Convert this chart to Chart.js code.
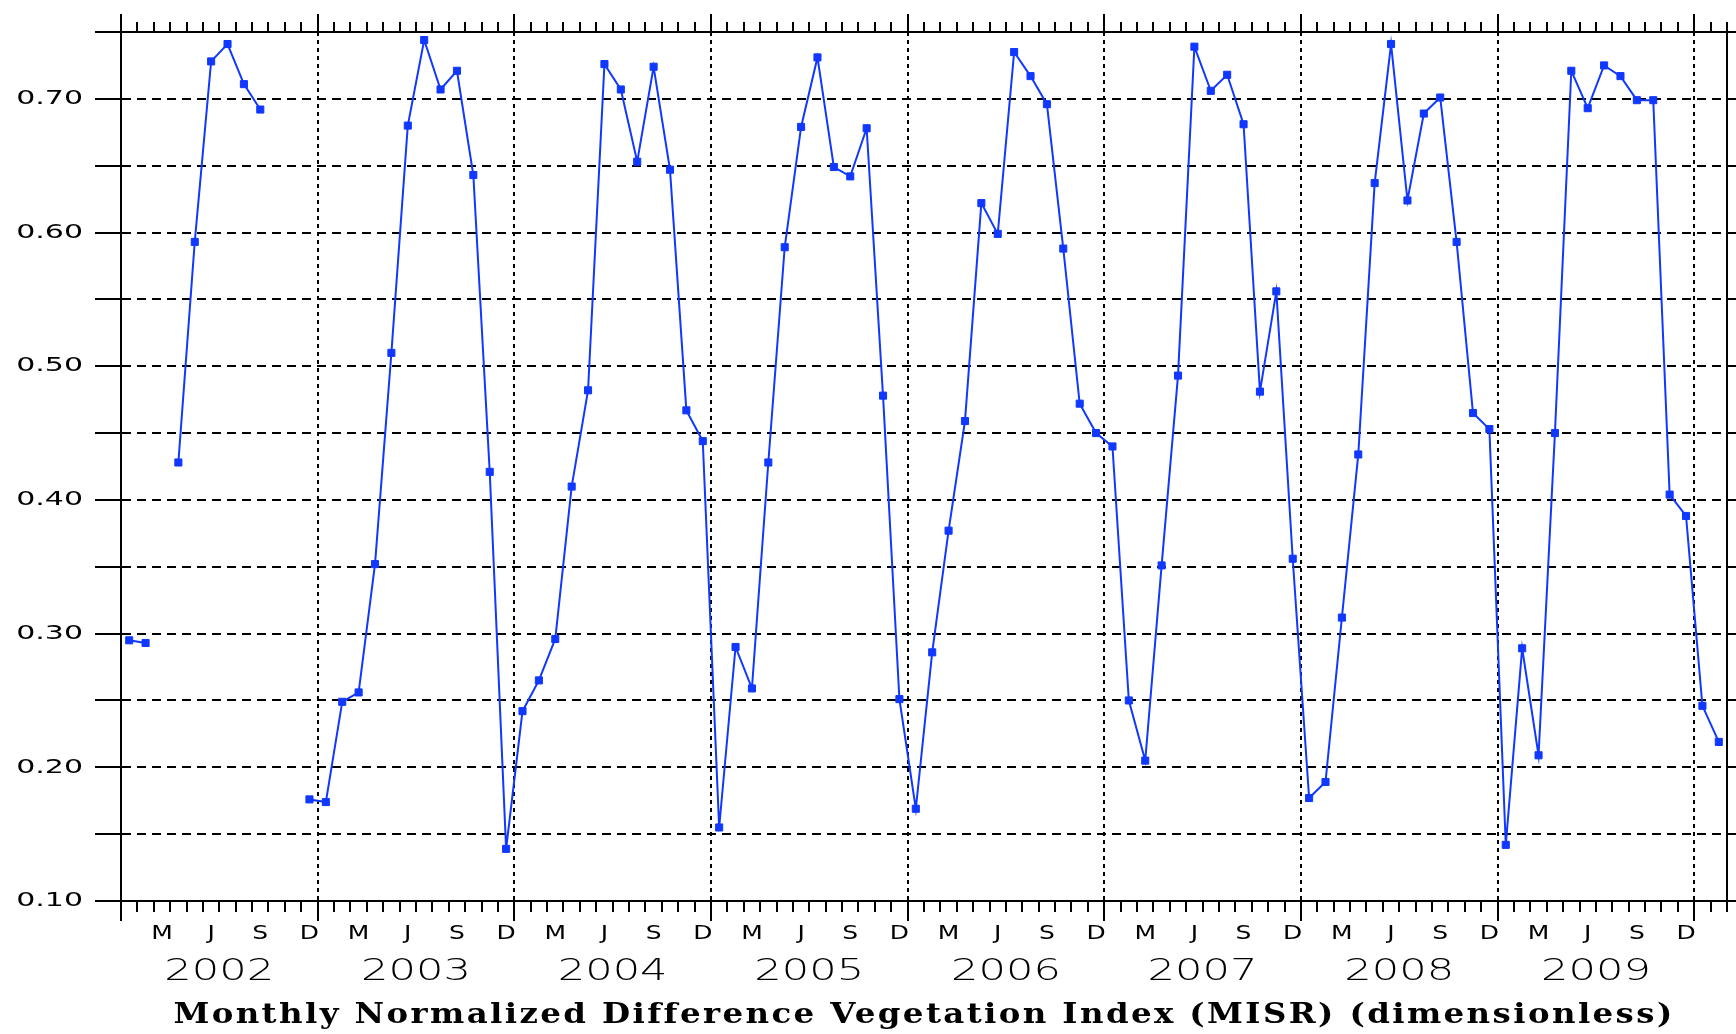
<!DOCTYPE html>
<html>
<head>
<meta charset="utf-8">
<title>Monthly NDVI (MISR)</title>
<script src="https://cdn.jsdelivr.net/npm/chart.js@4.4.1/dist/chart.umd.min.js"></script>
<style>
  html, body { margin: 0; padding: 0; background: #fff; }
  #canvas { display: block; }
</style>
</head>
<body>
<canvas id="canvas" width="1736" height="1034"></canvas>
<script>
// one value per month, Jan 2002 .. Feb 2010, null where the month has no data
const years = [2002, 2003, 2004, 2005, 2006, 2007, 2008, 2009]
const ndvi2002 = [0.295, 0.293, null, 0.428, 0.593, 0.728, 0.741, 0.711, 0.692, null, null, 0.176]
const ndvi2003 = [0.174, 0.249, 0.256, 0.352, 0.510, 0.680, 0.744, 0.707, 0.721, 0.643, 0.421, 0.139]
const ndvi2004 = [0.242, 0.265, 0.296, 0.410, 0.482, 0.726, 0.707, 0.653, 0.724, 0.647, 0.467, 0.444]
const ndvi2005 = [0.155, 0.290, 0.259, 0.428, 0.589, 0.679, 0.731, 0.649, 0.642, 0.678, 0.478, 0.251]
const ndvi2006 = [0.169, 0.286, 0.377, 0.459, 0.622, 0.599, 0.735, 0.717, 0.696, 0.588, 0.472, 0.450]
const ndvi2007 = [0.440, 0.250, 0.205, 0.351, 0.493, 0.739, 0.706, 0.718, 0.681, 0.481, 0.556, 0.356]
const ndvi2008 = [0.177, 0.189, 0.312, 0.434, 0.637, 0.741, 0.624, 0.689, 0.701, 0.593, 0.465, 0.453]
const ndvi2009 = [0.142, 0.289, 0.209, 0.450, 0.721, 0.693, 0.725, 0.717, 0.699, 0.699, 0.404, 0.388]
const ndvi2010 = [0.246, 0.219]

// tick labels
const monthLetters = ['J', 'F', 'M', 'A', 'M', 'J', 'J', 'A', 'S', 'O', 'N', 'D']
const labelledMonths = [2, 5, 8, 11]
const yTicks = [0.10, 0.15, 0.20, 0.25, 0.30, 0.35, 0.40, 0.45, 0.50, 0.55, 0.60, 0.65, 0.70, 0.75]
const yTickLabels = ['0.10', '', '0.20', '', '0.30', '', '0.40', '', '0.50', '', '0.60', '', '0.70', '']
const xTitle = 'Monthly Normalized Difference Vegetation Index (MISR) (dimensionless)'

const ndvi = [...ndvi2002, ...ndvi2003, ...ndvi2004, ...ndvi2005, ...ndvi2006, ...ndvi2007, ...ndvi2008, ...ndvi2009, ...ndvi2010]

// x runs in months from 1 Jan 2002, each value sits in the middle of its month
const monthCount = ndvi.length
const monthEdges = Array.from({ length: monthCount + 1 }, (_, i) => i)
const yearCenters = years.map((y, i) => i * 12 + 6)
const points = ndvi.map((v, i) => ({ x: i + 0.5, y: v }))

const blue = 'rgb(16, 56, 255)'
const black = '#000'
const clear = 'rgba(0,0,0,0)'

// the old plot uses very wide lettering, so the labels get stretched sideways
const labelStretch = { x: 1.25, xYear: 1.44, y: 1.5 }
const titleStretch = 1.2
const titleSpacing = '2px'

class StretchedLinearScale extends Chart.LinearScale {
    drawLabels(chartArea) {
        if (!this.options.ticks.display) return
        const sx = labelStretch[this.id] || 1
        const ctx = this.ctx
        for (const item of this.getLabelItems(chartArea)) {
            const [tx, ty] = item.options.translation
            ctx.save()
            ctx.scale(sx, 1)
            Chart.helpers.renderText(ctx, item.label, 0, item.textOffset, item.font,
                { ...item.options, translation: [tx / sx, ty] })
            ctx.restore()
        }
    }
    drawTitle() {
        const title = this.options.title
        if (!title.display) return
        const ctx = this.ctx
        const font = Chart.helpers.toFont(title.font)
        const pad = Chart.helpers.toPadding(title.padding)
        const x = (this.left + this.right) / 2
        const y = this.bottom - pad.bottom - font.lineHeight / 2
        ctx.save()
        ctx.scale(titleStretch, 1)
        ctx.letterSpacing = titleSpacing
        Chart.helpers.renderText(ctx, title.text, 0, 0, font, {
            color: title.color,
            textAlign: 'center',
            textBaseline: 'middle',
            translation: [x / titleStretch, y]
        })
        ctx.restore()
    }
}
StretchedLinearScale.id = 'stretchedLinear'
Chart.register(StretchedLinearScale)

Chart.defaults.color = black

const isYearEdge = (v) => v % 12 === 0
const monthLabel = (edge) => {
    // the label of a month sits half a month left of the edge that ends it
    const month = (edge - 1) % 12
    if (edge < 1 || edge > years.length * 12) return ''
    return labelledMonths.includes(month) ? monthLetters[month] : ''
}

const target = document.querySelector('#canvas')
const ndviChart = new Chart(target, {
    type: 'line',
    data: {
        datasets: [{
            label: 'NDVI',
            data: points,
            xAxisID: 'x',
            yAxisID: 'y',
            borderColor: blue,
            backgroundColor: blue,
            borderWidth: 2,
            tension: 0,
            spanGaps: false,
            pointStyle: 'rect',
            pointRadius: 5,
            pointHoverRadius: 5,
            pointBorderWidth: 1,
            pointBackgroundColor: blue,
            pointBorderColor: blue
        }]
    },
    options: {
        responsive: false,
        animation: false,
        devicePixelRatio: 1,
        layout: { padding: { top: 12, left: 0, right: 0, bottom: 0 } },
        plugins: {
            legend: { display: false },
            tooltip: { enabled: false }
        },
        scales: {
            x: {
                type: 'stretchedLinear',
                position: 'bottom',
                min: 0,
                max: monthCount,
                afterBuildTicks: s => { s.ticks = monthEdges.map(v => ({ value: v })) },
                afterFit: s => { s.height = 46 },
                grid: {
                    color: c => (c.tick && isYearEdge(c.tick.value) && c.tick.value > 0) ? black : clear,
                    lineWidth: 2,
                    tickColor: black,
                    tickWidth: 2,
                    tickLength: 20,
                    tickBorderDash: c => (c.tick && isYearEdge(c.tick.value)) ? [] : [10, 30]
                },
                border: { display: true, color: black, width: 2, dash: [4, 4] },
                ticks: {
                    autoSkip: false,
                    maxRotation: 0,
                    padding: 1,
                    labelOffset: -8.2,
                    font: { family: 'DejaVu Sans', size: 20 },
                    callback: v => monthLabel(v)
                }
            },
            xYear: {
                type: 'stretchedLinear',
                position: 'bottom',
                weight: 1,
                min: 0,
                max: monthCount,
                afterBuildTicks: s => { s.ticks = yearCenters.map(v => ({ value: v })) },
                afterFit: s => { s.height = 87 },
                grid: { display: false, drawTicks: false },
                border: { display: false },
                ticks: {
                    autoSkip: false,
                    maxRotation: 0,
                    padding: 7,
                    font: { family: 'DejaVu Sans', size: 30, weight: 200 },
                    callback: (v, i) => String(years[i])
                },
                title: {
                    display: true,
                    text: xTitle,
                    font: { family: 'DejaVu Serif', weight: 'bold', size: 27 },
                    padding: { top: 0, bottom: 2 }
                }
            },
            xTop: {
                type: 'linear',
                position: 'top',
                min: 0,
                max: monthCount,
                afterBuildTicks: s => { s.ticks = monthEdges.map(v => ({ value: v })) },
                afterFit: s => { s.height = 20 },
                grid: {
                    drawOnChartArea: false,
                    color: black,
                    lineWidth: 2,
                    tickLength: 18,
                    tickBorderDash: c => (c.tick && isYearEdge(c.tick.value)) ? [] : [0, 8, 10, 20]
                },
                border: { display: true, color: black, width: 2 },
                ticks: { display: false }
            },
            y: {
                type: 'stretchedLinear',
                position: 'left',
                min: 0.10,
                max: 0.75,
                afterBuildTicks: s => { s.ticks = yTicks.map(v => ({ value: v })) },
                afterFit: s => { s.width = 121 },
                grid: {
                    color: c => (c.tick && c.tick.value > 0.101 && c.tick.value < 0.749) ? black : clear,
                    lineWidth: 2,
                    tickColor: black,
                    tickWidth: 2,
                    tickLength: 26
                },
                border: { display: true, color: black, width: 2, dash: [9, 6] },
                ticks: {
                    padding: 12,
                    font: { family: 'DejaVu Sans', size: 20 },
                    callback: (v, i) => yTickLabels[i]
                }
            },
            yRight: {
                type: 'linear',
                position: 'right',
                min: 0.10,
                max: 0.75,
                afterBuildTicks: s => { s.ticks = yTicks.map(v => ({ value: v })) },
                afterFit: s => { s.width = 9 },
                grid: { drawOnChartArea: false, color: black, lineWidth: 2, tickLength: 10 },
                border: { display: true, color: black, width: 2 },
                ticks: { display: false }
            }
        }
    }
})
</script>
</body>
</html>
